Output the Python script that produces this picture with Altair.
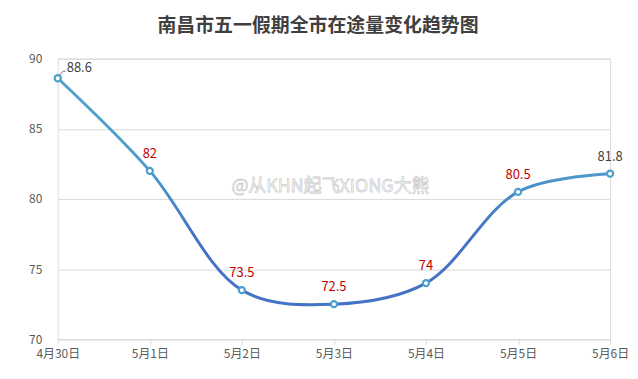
import altair as alt
import pandas as pd

days = ["4月30日", "5月1日", "5月2日", "5月3日", "5月4日", "5月5日", "5月6日"]
values = [88.6, 82, 73.5, 72.5, 74, 80.5, 81.8]
edge_days = ["4月30日", "5月6日"]
y_ticks = [70, 75, 80, 85, 90]

df = pd.DataFrame({"day": days, "value": values})

FONT = "Noto Sans CJK SC"

x_enc = alt.X("day:N", sort=days, scale=alt.Scale(type="point", padding=0),
              axis=alt.Axis(title=None, labelAngle=0, labelColor="#595959", labelFontSize=12,
                            labelFont=FONT, domainColor="#d9d9d9", tickColor="#d9d9d9",
                            tickSize=5, labelPadding=4, grid=False))
y_enc = alt.Y("value:Q", scale=alt.Scale(domain=[70, 90], nice=False, zero=False),
              axis=alt.Axis(title=None, values=y_ticks, labelColor="#595959", labelFontSize=12,
                            labelFont=FONT, domain=False, ticks=False, labelPadding=16,
                            gridColor="#d9d9d9", gridWidth=1))

base = alt.Chart(df)

line = base.mark_line(
    interpolate="catmull-rom", strokeWidth=3,
    color=alt.Gradient(gradient="linear",
                       stops=[alt.GradientStop(offset=0, color="#4EA2CD"),
                              alt.GradientStop(offset=0.4, color="#4E9BCC"),
                              alt.GradientStop(offset=0.7, color="#4472C4"),
                              alt.GradientStop(offset=1, color="#4472C4")],
                       x1=0, x2=0, y1=0, y2=1),
).encode(x=x_enc, y=y_enc)

points = base.mark_point(shape="circle", filled=False, fill="white", fillOpacity=1,
                         stroke="#4A9FCB", strokeWidth=2.2, size=38, opacity=1).encode(
    x=alt.X("day:N", sort=days), y="value:Q")

mid_labels = base.transform_filter(
    ~alt.FieldOneOfPredicate(field="day", oneOf=edge_days)
).mark_text(dy=-17, color="#C00000", fontSize=13, font=FONT).encode(
    x=alt.X("day:N", sort=days), y="value:Q", text=alt.Text("value:Q"))

last_label = base.transform_filter(
    alt.FieldEqualPredicate(field="day", equal=days[-1])
).mark_text(dy=-17, color="#404040", fontSize=13, font=FONT).encode(
    x=alt.X("day:N", sort=days), y="value:Q", text=alt.Text("value:Q"))

first_label = base.transform_filter(
    alt.FieldEqualPredicate(field="day", equal=days[0])
).mark_text(dx=9, dy=-10, align="left", color="#404040", fontSize=13, font=FONT).encode(
    x=alt.X("day:N", sort=days), y="value:Q", text=alt.Text("value:Q"))

leader1 = base.transform_filter(
    alt.FieldEqualPredicate(field="day", equal=days[0])
).mark_rule(color="#7f7f7f", strokeWidth=1, xOffset=2, x2Offset=5, yOffset=-3, y2Offset=-7).encode(
    x=alt.X("day:N", sort=days), x2="day:N", y="value:Q", y2="value:Q")

leader2 = base.transform_filter(
    alt.FieldEqualPredicate(field="day", equal=days[0])
).mark_rule(color="#7f7f7f", strokeWidth=1, xOffset=5, x2Offset=8, yOffset=-7, y2Offset=-7).encode(
    x=alt.X("day:N", sort=days), x2="day:N", y="value:Q", y2="value:Q")

watermark = alt.Chart(pd.DataFrame({"t": ["@从KHN起飞XIONG大熊"]})).mark_text(
    fontSize=18, font=FONT, fill="white", stroke="#cfcfcf", strokeWidth=0.8, align="center"
).encode(x=alt.value(274), y=alt.value(129), text="t:N")

chart = alt.layer(line, leader1, leader2, points, mid_labels, last_label, first_label, watermark).properties(
    width=555, height=282,
    autosize=alt.AutoSizeParams(type="none"),
    padding={"left": 50, "top": 50, "right": 20, "bottom": 20},
    title=alt.TitleParams(text="南昌市五一假期全市在途量变化趋势图", fontSize=19, font=FONT,
                          fontWeight="bold", color="#404040", anchor="middle", dx=-16, offset=17),
).configure_view(stroke=None).configure(background="white")

chart.save("out.html", embed_options={"renderer": "svg", "actions": False})
